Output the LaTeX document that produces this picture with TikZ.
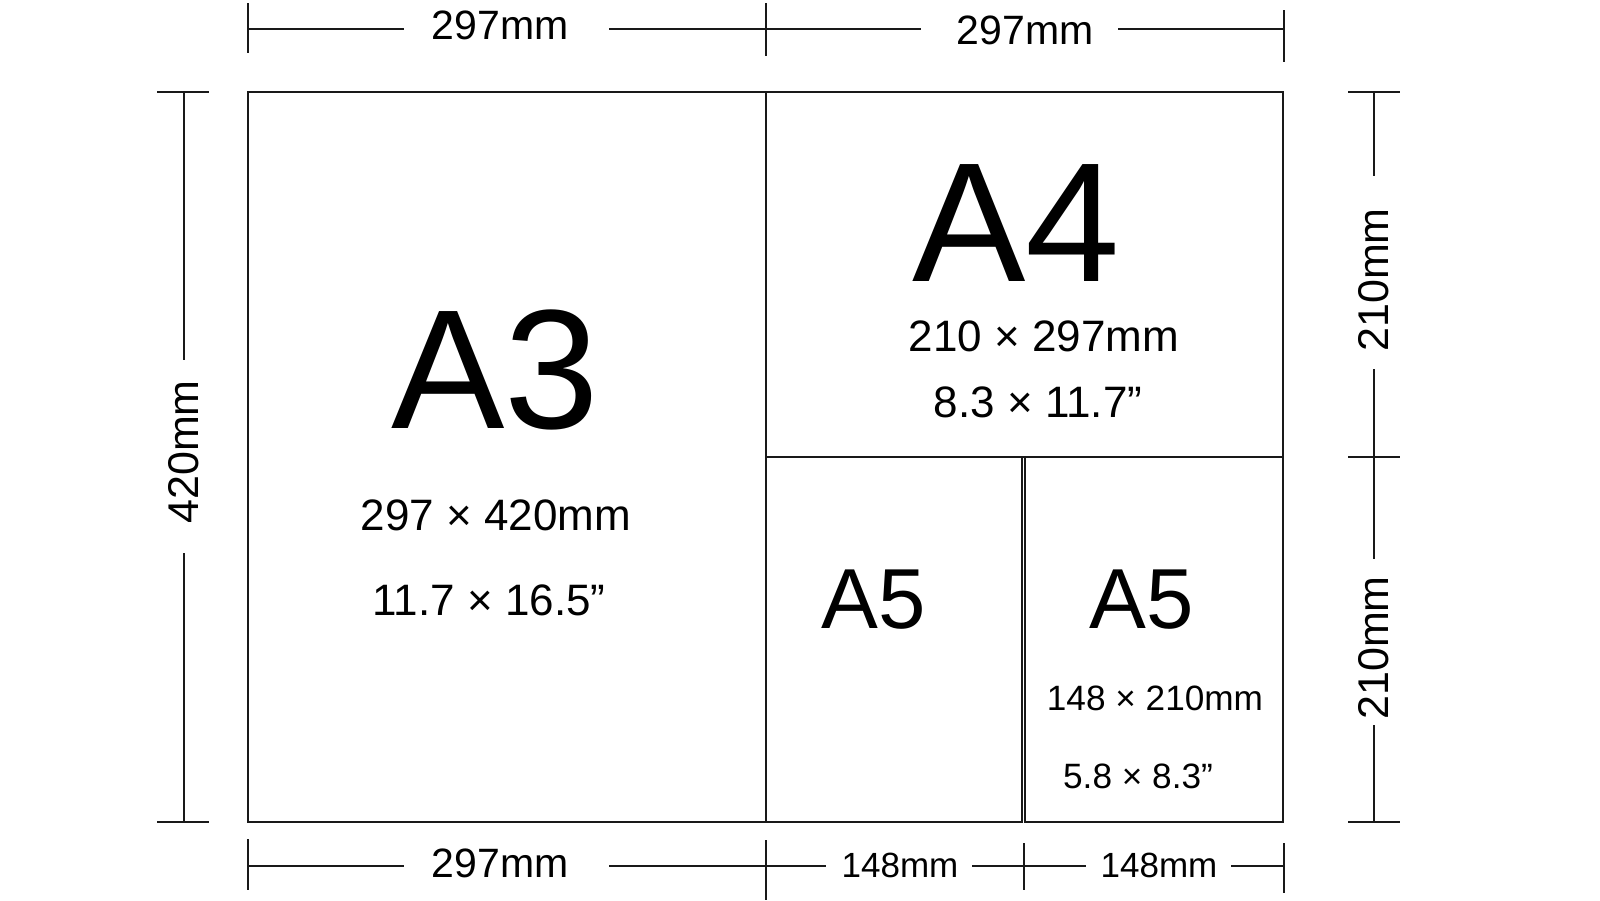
\documentclass[tikz,border=0pt]{standalone}
\usepackage{fontspec}
\setmainfont{Liberation Sans}
\begin{document}
\begin{tikzpicture}[x=0.5pt,y=-0.5pt,
  paper/.style={draw=black!90,line width=1.15pt},
  dimline/.style={draw=black!90,line width=0.8pt},
  big/.style={font=\fontsize{85}{85}\selectfont,anchor=base,inner sep=0pt},
  mid/.style={font=\fontsize{42.6}{43}\selectfont,anchor=base,inner sep=0pt},
  sizeA/.style={font=\fontsize{22}{22}\selectfont,anchor=base,inner sep=0pt},
  sizeB/.style={font=\fontsize{17.6}{18}\selectfont,anchor=base,inner sep=0pt},
  dimtxt/.style={font=\fontsize{20.5}{21}\selectfont,anchor=base,inner sep=0pt},
  dimsmall/.style={font=\fontsize{17.5}{18}\selectfont,anchor=base,inner sep=0pt},
  dimrot/.style={font=\fontsize{21.5}{22}\selectfont,rotate=90,anchor=center,inner sep=0pt}]
\useasboundingbox[fill=white] (0,0) rectangle (1600,900);

% sheets
\draw[paper] (248,92) rectangle (766,822);
\draw[paper] (766,92) rectangle (1283,457);
\draw[paper] (766,457) rectangle (1022,822);
\draw[paper] (1025,457) rectangle (1283,822);

% labels inside sheets
\node[big] (a3) at (495,428) {A3};
\node[sizeA] (a3mm) at (496,530) {297 × 420mm};
\node[sizeA] (a3in) at (489,615) {11.7 × 16.5”};
\node[big] (a4) at (1016,281) {A4};
\node[sizeA] (a4mm) at (1044,351) {210 × 297mm};
\node[sizeA] (a4in) at (1038,417) {8.3 × 11.7”};
\node[mid] (a5l) at (874,628) {A5};
\node[mid] (a5r) at (1142,628) {A5};
\node[sizeB] (a5mm) at (1155,710) {148 × 210mm};
\node[sizeB] (a5in) at (1138,788) {5.8 × 8.3”};

% top dimension
\draw[dimline] (248,3) -- (248,53);
\draw[dimline] (766,3) -- (766,56);
\draw[dimline] (1284,10) -- (1284,62);
\draw[dimline] (248,29) -- (404,29) (609,29) -- (766,29) -- (921,29) (1118,29) -- (1284,29);
\node[dimtxt] (t1) at (500,39) {297mm};
\node[dimtxt] (t2) at (1025,44) {297mm};

% bottom dimension
\draw[dimline] (248,839) -- (248,890);
\draw[dimline] (766,840) -- (766,900);
\draw[dimline,line width=1.1pt] (1024,843) -- (1024,890);
\draw[dimline] (1284,843) -- (1284,893);
\draw[dimline] (248,866) -- (404,866) (609,866) -- (826,866) (972,866) -- (1086,866) (1231,866) -- (1284,866);
\node[dimtxt] (b1) at (500,877) {297mm};
\node[dimsmall] (b2) at (900,877) {148mm};
\node[dimsmall] (b3) at (1159,877) {148mm};

% left dimension
\draw[dimline] (157,92) -- (209,92);
\draw[dimline] (157,822) -- (209,822);
\draw[dimline] (184,92) -- (184,360) (184,553) -- (184,822);
\node[dimrot] (l1) at (184,452) {420mm};

% right dimension
\draw[dimline] (1348,92) -- (1400,92);
\draw[dimline] (1348,457) -- (1400,457);
\draw[dimline] (1348,822) -- (1400,822);
\draw[dimline] (1374,92) -- (1374,176) (1374,369) -- (1374,559) (1374,725) -- (1374,822);
\node[dimrot] (r1) at (1374,280) {210mm};
\node[dimrot] (r2) at (1374,648) {210mm};
\end{tikzpicture}
\end{document}
